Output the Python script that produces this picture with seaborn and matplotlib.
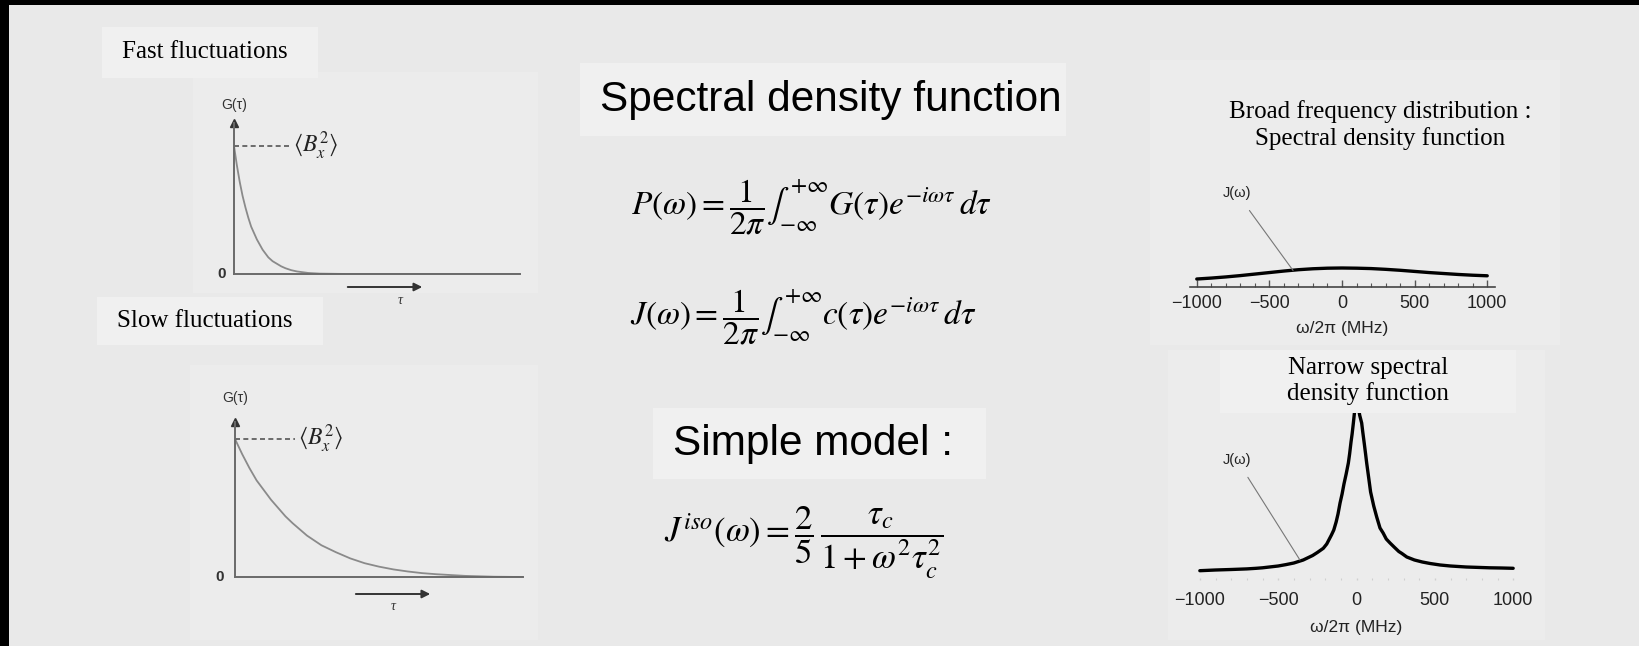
import numpy as np
import pandas as pd
import matplotlib
matplotlib.use("Agg")
import matplotlib.pyplot as plt
from matplotlib.patches import Rectangle
import seaborn as sns

# ---------------- data ----------------
# Correlation function G(tau) for fast fluctuations (normalised to <B_x^2> = 1)
fast_tau = [0.0, 0.1, 0.2, 0.3, 0.4, 0.5, 0.6, 0.7, 0.8, 0.9, 1.0, 1.1, 1.2, 1.35, 1.5, 1.65, 1.8, 2.0,
            2.2, 2.6, 3.0, 4.0, 6.0, 8.0, 10.0]
fast_G = [1.0, 0.85, 0.72, 0.61, 0.52, 0.44, 0.37, 0.32, 0.27, 0.23, 0.19, 0.16, 0.13, 0.10, 0.08, 0.06,
          0.045, 0.03, 0.02, 0.008, 0.003, 0.0, 0.0, 0.0, 0.0]

# Correlation function G(tau) for slow fluctuations
slow_tau = [0.0, 0.25, 0.5, 0.75, 1.0, 1.25, 1.5, 1.75, 2.0, 2.5, 3.0, 3.5, 4.0, 4.5, 5.0, 5.5, 6.0,
            6.5, 7.0, 8.0, 9.0, 10.0]
slow_G = [1.0, 0.89, 0.79, 0.70, 0.63, 0.56, 0.50, 0.44, 0.39, 0.30, 0.23, 0.18, 0.135, 0.10, 0.075,
          0.055, 0.04, 0.028, 0.02, 0.008, 0.002, 0.0]

# Broad spectral density J(omega), relative units, omega/2pi in MHz
broad_freq = [-1000, -900, -800, -700, -600, -500, -400, -300, -200, -100, 0,
              100, 200, 300, 400, 500, 600, 700, 800, 900, 1000]
broad_J = [0.42, 0.47, 0.53, 0.60, 0.68, 0.76, 0.84, 0.91, 0.96, 0.99, 1.0,
           0.99, 0.97, 0.93, 0.88, 0.82, 0.76, 0.71, 0.66, 0.62, 0.59]

# Narrow spectral density J(omega), arbitrary units
narrow_freq = [-1000, -900, -800, -700, -640, -600, -500, -450, -400, -340, -280, -250, -212, -190,
               -160, -145, -130, -118, -105, -92, -80, -66, -52, -44, -35, -28, -20, -10, 0,
               10, 20, 33, 40, 50, 58, 65, 78, 90, 110, 129, 150, 170, 190, 214, 240, 270, 290,
               321, 370, 420, 470, 534, 600, 700, 775, 850, 925, 1000]
narrow_J = [9.3, 10.0, 10.5, 11.1, 11.7, 12.2, 14.0, 15.4, 17.0, 20.0, 24.5, 27.5, 31.7, 36.0,
            45.0, 50.0, 58.0, 66.0, 77.0, 86.0, 96.0, 106.0, 117.0, 126.0, 138.0, 146.0, 157.0, 172.0, 180.0,
            175.0, 165.0, 157.0, 148.0, 136.0, 126.0, 117.0, 102.0, 88.0, 74.0, 63.0, 52.0, 47.0, 41.0,
            37.0, 33.0, 28.5, 26.5, 23.0, 20.0, 18.0, 16.5, 15.0, 14.0, 13.0, 12.6, 12.2, 12.0, 11.7]

freq_ticks = [-1000, -500, 0, 500, 1000]
freq_tick_labels = ["\u22121000", "\u2212500", "0", "500", "1000"]
freq_minor = list(range(-1000, 1001, 100))

# ---------------- styling ----------------
sns.set_theme(style="white")
plt.rcParams["font.family"] = ["Liberation Sans", "DejaVu Sans"]
plt.rcParams["mathtext.fontset"] = "stix"
plt.rcParams["text.color"] = "black"

W, H = 1639, 646
BG = "#e9e9e9"
BOX = "#f0f0f0"
SCAN = "#ececec"
SERIF = ["Liberation Serif", "DejaVu Serif"]

fig = plt.figure(figsize=(W / 100, H / 100), dpi=100, facecolor=BG)


def fr(x0, y0, x1, y1):
    """Pixel box (top-left origin) -> figure fraction [l, b, w, h]."""
    return [x0 / W, 1 - y1 / H, (x1 - x0) / W, (y1 - y0) / H]


def fig_rect(x0, y0, x1, y1, color, z=0.5):
    l, b, w, h = fr(x0, y0, x1, y1)
    fig.patches.append(Rectangle((l, b), w, h, transform=fig.transFigure,
                                 facecolor=color, edgecolor="none", zorder=z))


def fig_text(x, y, s, **kw):
    kw.setdefault("zorder", 10)
    kw.setdefault("color", "black")
    fig.text(x / W, 1 - y / H, s, **kw)


# frame edges
fig_rect(0, 0, 9, H, "black", z=20)
fig_rect(0, 0, W, 5, "black", z=20)

# backgrounds of the scanned figures
fig_rect(193, 72, 538, 293, SCAN)
fig_rect(190, 365, 538, 640, SCAN)
fig_rect(1150, 60, 1560, 345, SCAN)
fig_rect(1168, 350, 1545, 640, SCAN)

# caption boxes
fig_rect(102, 27, 318, 78, BOX, z=6)
fig_rect(97, 297, 323, 345, BOX, z=6)
fig_rect(580, 63, 1066, 136, BOX, z=6)
fig_rect(653, 408, 986, 479, BOX, z=6)
fig_rect(1220, 350, 1516, 413, BOX, z=6)

fig_text(122, 52, "Fast fluctuations", family=SERIF, fontsize=18, va="center", ha="left")
fig_text(117, 321, "Slow fluctuations", family=SERIF, fontsize=18, va="center", ha="left")
fig_text(600, 100, "Spectral density function", fontsize=30.5, va="center", ha="left")
fig_text(673, 444, "Simple model :", fontsize=30.5, va="center", ha="left")
fig_text(1380, 125, "Broad frequency distribution :\nSpectral density function",
         family=SERIF, fontsize=18, va="center", ha="center", linespacing=1.2)
fig_text(1368, 381, "Narrow spectral\ndensity function",
         family=SERIF, fontsize=18, va="center", ha="center", linespacing=1.15)

# equations
fig_text(811, 207, r"$P(\omega) = \dfrac{1}{2\pi}\int_{-\infty}^{+\infty} G(\tau)e^{-i\omega\tau}\,d\tau$",
         fontsize=24, ha="center", va="center")
fig_text(803, 317, r"$J(\omega) = \dfrac{1}{2\pi}\int_{-\infty}^{+\infty} c(\tau)e^{-i\omega\tau}\,d\tau$",
         fontsize=24, ha="center", va="center")
fig_text(804, 543, r"$J^{iso}(\omega) = \dfrac{2}{5}\,\dfrac{\tau_c}{1+\omega^2\tau_c^2}$",
         fontsize=25, ha="center", va="center")

AXC = "#6a6a6a"


def corr_panel(rect, tau, G, top, dash_end, g_off, arrow_x, arrow_y, tau_lbl, zero_x):
    ax = fig.add_axes(rect)
    ax.set_zorder(2)
    ax.set_facecolor("none")
    sns.lineplot(x=tau, y=G, ax=ax, color="#8a8a8a", linewidth=1.3, estimator=None)
    ax.set_xlim(0, 10)
    ax.set_ylim(0, top)
    for s in ["top", "right"]:
        ax.spines[s].set_visible(False)
    for s in ["left", "bottom"]:
        ax.spines[s].set_color(AXC)
        ax.spines[s].set_linewidth(1.4)
    ax.set_xticks([])
    ax.set_yticks([])
    ax.set_xlabel("")
    ax.set_ylabel("")
    ax.plot([0], [top], marker="^", ms=6, color="#333333", clip_on=False)
    ax.plot([0, dash_end], [1, 1], color="#555555", lw=1.2, ls=(0, (3, 2)))
    ax.text(dash_end + 0.1, 1.0, r"$\langle B_x^2\rangle$", fontsize=17, ha="left", va="center",
            color="#222222")
    ax.text(0, top + g_off, "G(\u03c4)", fontsize=10, ha="center", va="center", color="#333333")
    ax.text(zero_x, 0, "0", fontsize=11, ha="center", va="center", color="#333333", fontweight="bold")
    ax.annotate("", xy=(arrow_x[1], arrow_y), xytext=(arrow_x[0], arrow_y),
                arrowprops=dict(arrowstyle="-|>", color="#333333", lw=1.4, mutation_scale=12),
                annotation_clip=False)
    ax.text(tau_lbl[0], tau_lbl[1], "\u03c4", fontsize=10, ha="center", va="center",
            color="#333333", family=SERIF, style="italic")
    return ax


corr_panel(fr(234, 123, 520, 274), fast_tau, fast_G, (274 - 123) / 128,
           1.96, 18 / 128, (3.88, 6.68), -13 / 128, (5.8, -26 / 128), -0.42)
corr_panel(fr(235, 422, 523, 577), slow_tau, slow_G, (577 - 422) / 138,
           2.08, 24 / 138, (4.1, 6.875), -17 / 138, (5.5, -30 / 138), -0.52)


def spec_panel(rect, freq, J, ylim, show_axis, pad, lpad, target, txt_off, lw):
    ax = fig.add_axes(rect)
    ax.set_zorder(2)
    ax.set_facecolor("none")
    sns.lineplot(x=freq, y=J, ax=ax, color="black", linewidth=lw, estimator=None)
    ax.set_xlim(-1050, 1050)
    ax.set_ylim(*ylim)
    for s in ["top", "right", "left"]:
        ax.spines[s].set_visible(False)
    ax.spines["bottom"].set_visible(show_axis)
    ax.spines["bottom"].set_color("#444444")
    ax.spines["bottom"].set_linewidth(1.2)
    ax.set_yticks([])
    ax.set_xticks(freq_ticks)
    ax.set_xticklabels(freq_tick_labels)
    ax.set_xticks(freq_minor, minor=True)
    tc = "#555555" if show_axis else "#cfcfcf"
    ax.tick_params(axis="x", which="major", direction="in", length=5 if show_axis else 1.5,
                   width=1.0, color=tc, pad=pad, labelsize=13, labelcolor="#222222", bottom=True)
    ax.tick_params(axis="x", which="minor", direction="in", length=3 if show_axis else 1.5,
                   width=0.8, color=tc, bottom=True)
    ax.set_xlabel("\u03c9/2\u03c0 (MHz)", fontsize=12.5, color="#222222", labelpad=lpad)
    ax.set_ylabel("")
    ax.annotate("J(\u03c9)", xy=target, xytext=txt_off, textcoords="offset pixels",
                fontsize=10.5, ha="center", va="center", color="#222222",
                arrowprops=dict(arrowstyle="-", color="#777777", lw=0.8, shrinkA=6, shrinkB=0))
    return ax


spec_panel(fr(1189.5, 247, 1494.5, 287), broad_freq, broad_J, (0, 40 / 19), True,
           5.5, 7, (-337, 0.87), (-56, 77), 2.4)
spec_panel(fr(1192, 380, 1521, 580), narrow_freq, narrow_J, (0, 200), False,
           8.5, 8, (-361, 20), (-63, 100), 2.4)

fig.savefig("out.png", dpi=100, facecolor=BG)
